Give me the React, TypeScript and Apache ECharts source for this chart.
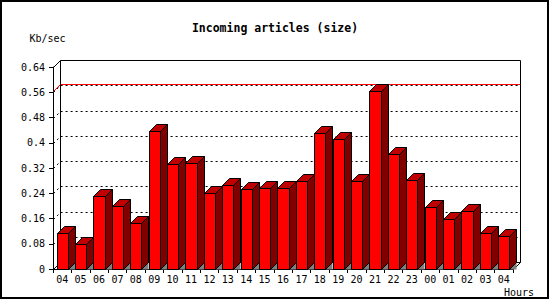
import React, { useEffect, useRef } from "react";
import * as echarts from "echarts";

const categories = ["04","05","06","07","08","09","10","11","12","13","14","15","16","17","18","19","20","21","22","23","00","01","02","03","04"];
const values = [0.114,0.080,0.231,0.200,0.146,0.437,0.332,0.335,0.240,0.266,0.253,0.256,0.256,0.278,0.430,0.411,0.278,0.563,0.364,0.281,0.196,0.158,0.183,0.114,0.104];
const yMin = 0;
const yMax = 0.64;
const yInterval = 0.08;
const titleText = "Incoming articles (size)";
const yUnit = "Kb/sec";
const xUnit = "Hours";

const D = 7;
const FONT = "DejaVu Sans Mono";
const c = (n: number) => Math.round(n) + 0.5;

export default function App() {
  const ref = useRef<HTMLDivElement>(null);
  useEffect(() => {
    if (!ref.current) return;
    const chart = echarts.init(ref.current, null, { renderer: "svg" });
    const maxVal = Math.max(...values);
    const gridVals: number[] = [];
    for (let k = 1; k * yInterval < yMax - 1e-9; k++) gridVals.push(+(k * yInterval).toFixed(2));

    const renderWall = (params: any, api: any) => {
      const cs = params.coordSys;
      const x0 = c(cs.x), x1 = c(cs.x + cs.width);
      const yT = c(cs.y), yB = c(cs.y + cs.height);
      const children: any[] = [];
      gridVals.forEach((v) => {
        const y = c(api.coord([0, v])[1]);
        children.push({
          type: "polyline",
          shape: { points: [[x0, y], [x0 + D, y - D], [x1 + D, y - D]] },
          style: { stroke: "#000", lineWidth: 1, lineDash: [2, 3], fill: null },
        });
      });
      const ym = c(api.coord([0, maxVal])[1]);
      children.push({
        type: "polyline",
        shape: { points: [[x0, ym], [x0 + D, ym - D], [x1 + D, ym - D]] },
        style: { stroke: "#ff0000", lineWidth: 1, fill: null },
      });
      children.push({
        type: "polyline",
        shape: { points: [[x0, yT], [x0 + D, yT - D], [x1 + D, yT - D], [x1 + D, yB - D], [x1, yB]] },
        style: { stroke: "#000", lineWidth: 1, fill: null },
      });
      children.push({
        type: "polyline",
        shape: { points: [[x0 + D, yT - D], [x0 + D, yB - D], [x0, yB]] },
        style: { stroke: "#000", lineWidth: 1, fill: null },
      });
      children.push({
        type: "polyline",
        shape: { points: [[x0 + D, yB - D], [x1 + D, yB - D]] },
        style: { stroke: "#000", lineWidth: 1, fill: null },
      });
      return { type: "group", children };
    };

    const renderBar = (params: any, api: any) => {
      const idx = api.value(0);
      const v = api.value(1);
      const p = api.coord([idx, v]);
      const yb = c(api.coord([idx, 0])[1]);
      const bw = api.size([1, 0])[0] * 0.6;
      const xl = c(p[0] - bw / 2), xr = c(p[0] + bw / 2);
      const yt = c(p[1]);
      return {
        type: "group",
        children: [
          {
            type: "polygon",
            shape: { points: [[xr, yb], [xr + D, yb - D], [xr + D, yb]] },
            style: { fill: "#808080", stroke: null },
          },
          {
            type: "rect",
            shape: { x: xl, y: yt, width: xr - xl, height: yb - yt },
            style: { fill: "#ff0000", stroke: "#000", lineWidth: 1 },
          },
          {
            type: "polygon",
            shape: { points: [[xr, yb], [xr + D, yb - D], [xr + D, yt - D], [xr, yt]] },
            style: { fill: "#800000", stroke: "#000", lineWidth: 1 },
          },
          {
            type: "polygon",
            shape: { points: [[xl, yt], [xl + D, yt - D], [xr + D, yt - D], [xr, yt]] },
            style: { fill: "#c00000", stroke: "#000", lineWidth: 1 },
          },
        ],
      };
    };

    chart.setOption({
      animation: false,
      backgroundColor: "#ffffff",
      grid: { left: 53, right: 37, top: 67, bottom: 31, containLabel: false },
      xAxis: {
        type: "category",
        data: categories,
        boundaryGap: true,
        axisLine: { show: true, lineStyle: { color: "#000", width: 1 } },
        axisTick: { show: true, length: 4, lineStyle: { color: "#000" } },
        axisLabel: { color: "#000", fontFamily: FONT, fontSize: 10, margin: 5, interval: 0 },
        splitLine: { show: false },
      },
      yAxis: {
        type: "value",
        min: yMin,
        max: yMax,
        interval: yInterval,
        axisLine: { show: true, lineStyle: { color: "#000", width: 1 } },
        axisTick: { show: true, length: 4, lineStyle: { color: "#000" } },
        axisLabel: { color: "#000", fontFamily: FONT, fontSize: 10, margin: 8 },
        splitLine: { show: false },
      },
      graphic: [
        {
          type: "rect",
          shape: { x: 1, y: 1, width: 547, height: 297 },
          style: { fill: null, stroke: "#000", lineWidth: 2 },
          z: 10,
        },
        {
          type: "text",
          x: 275,
          y: 28,
          style: {
            text: titleText,
            font: `bold 11.5px "${FONT}"`,
            fill: "#000",
            align: "center",
            verticalAlign: "middle",
            textAlign: "center",
            textVerticalAlign: "middle",
          },
        },
        {
          type: "text",
          x: 47.5,
          y: 38.5,
          style: {
            text: yUnit,
            font: `10px "${FONT}"`,
            fill: "#000",
            align: "center",
            verticalAlign: "middle",
            textAlign: "center",
            textVerticalAlign: "middle",
          },
        },
        {
          type: "text",
          x: 519,
          y: 292,
          style: {
            text: xUnit,
            font: `10px "${FONT}"`,
            fill: "#000",
            align: "center",
            verticalAlign: "middle",
            textAlign: "center",
            textVerticalAlign: "middle",
          },
        },
      ],
      series: [
        {
          type: "custom",
          z: 1,
          clip: false,
          silent: true,
          renderItem: renderWall,
          data: [[0, 0]],
        },
        {
          type: "custom",
          z: 2,
          clip: false,
          renderItem: renderBar,
          data: values.map((v, i) => [i, v]),
        },
      ],
    });
    return () => chart.dispose();
  }, []);
  return (
    <div
      ref={ref}
      style={{ position: "fixed", left: 0, top: 0, width: 550, height: 300, background: "#fff" }}
    />
  );
}
